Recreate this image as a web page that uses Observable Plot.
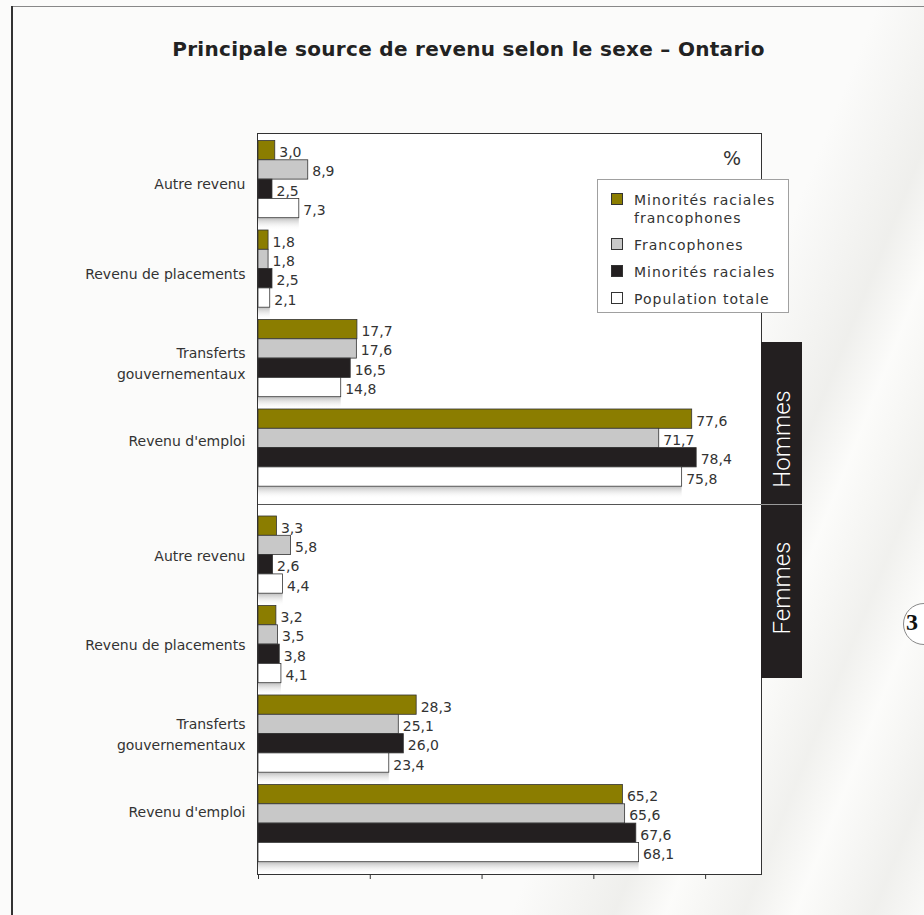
<!DOCTYPE html>
<html>
<head>
<meta charset="utf-8">
<script src="https://cdn.jsdelivr.net/npm/d3@7"></script>
<script src="https://cdn.jsdelivr.net/npm/@observablehq/plot@0.6"></script>
<style>
html, body { margin: 0; padding: 0; }
body { width: 924px; height: 915px; overflow: hidden; position: relative; background: #fbfbfa; font-family: "DejaVu Sans", sans-serif; color: #333; }
#bg { position: absolute; inset: 0; background:
  linear-gradient(112deg, rgba(255,255,255,0) 0%, rgba(255,255,255,0) 68%, rgba(236,236,233,0.8) 76%, rgba(252,252,250,0.6) 80%, rgba(238,238,235,0.8) 86%, rgba(252,252,250,0.5) 90%, rgba(235,235,232,0.7) 96%, rgba(248,248,246,0.6) 100%); }
#frameTop { position: absolute; left: 11px; top: 6px; width: 913px; height: 1px; background: #888; }
#frameLeft { position: absolute; left: 11px; top: 6px; width: 1.5px; height: 909px; background: #333; }
#title { position: absolute; left: 12px; width: 913px; top: 37px; text-align: center; font-family: "DejaVu Sans", sans-serif; font-weight: bold; font-size: 20px; letter-spacing: 0.3px; line-height: 24px; color: #222; }
#panel { position: absolute; left: 257px; top: 133px; width: 505px; height: 742px; box-sizing: border-box; background: #fff; border: 1px solid #333; }
.plot { position: absolute; left: 0; }
.plot svg { overflow: visible; }
g[aria-label="text"].values { letter-spacing: 1px; }
#sep { position: absolute; left: 258px; top: 504px; width: 544px; height: 1px; background: #555; }
#tab { position: absolute; left: 761px; top: 342px; width: 41px; height: 336px; background: #231f20; }
#tabSep { position: absolute; left: 761px; top: 504px; width: 41px; height: 1px; background: #9a9a9a; }
.tabLabel { position: absolute; left: 782px; transform: translate(-50%, -50%) rotate(-90deg); color: #fff; font-family: Roboto, sans-serif; font-weight: 300; font-size: 24px; white-space: nowrap; }
#legend { position: absolute; left: 597px; top: 179px; width: 192px; height: 134px; box-sizing: border-box; background: #fff; border: 1.5px solid #a0a0a0; padding: 11px 0 0 13px; }
.item { display: flex; align-items: flex-start; font-size: 14px; line-height: 18px; letter-spacing: 1px; margin-bottom: 9px; color: #333; }
.sw { width: 12px; height: 12px; box-sizing: border-box; border: 1.5px solid #333; margin: 2px 11px 0 0; flex: none; }
.lbl { max-width: 152px; }
#pct { position: absolute; left: 723px; top: 147px; font-size: 19px; color: #333; }
#pageNum { position: absolute; left: 903px; top: 603px; width: 42px; height: 42px; box-sizing: border-box; border-radius: 50%; border: 1px solid #888; background: #fff; }
#pageNumTxt { position: absolute; left: 906px; top: 609px; font-family: "Liberation Serif", serif; font-weight: bold; font-size: 24px; color: #111; }
</style>
</head>
<body>
<svg width="0" height="0" style="position:absolute">
  <defs>
    <linearGradient id="shadowGrad" x1="0" y1="0" x2="0" y2="1">
      <stop offset="0" stop-color="#7a7a7a" stop-opacity="0.5"/>
      <stop offset="1" stop-color="#ffffff" stop-opacity="0"/>
    </linearGradient>
  </defs>
</svg>
<div id="bg"></div>
<div id="frameTop"></div>
<div id="frameLeft"></div>
<div id="title">Principale source de revenu selon le sexe – Ontario</div>
<div id="panel"></div>
<div id="top" class="plot"></div>
<div id="bottom" class="plot"></div>
<div id="sep"></div>
<div id="pct">%</div>
<div id="legend"></div>
<div id="tab"></div>
<div id="tabSep"></div>
<div class="tabLabel" style="top:439px">Hommes</div>
<div class="tabLabel" style="top:588px">Femmes</div>
<div id="pageNum"></div>
<div id="pageNumTxt">3</div>
<script>
// ---- Data ----
const categories = ["Autre revenu", "Revenu de placements", "Transferts gouvernementaux", "Revenu d'emploi"];
const series = ["Minorités raciales francophones", "Francophones", "Minorités raciales", "Population totale"];
const hommes = [
  [3.0, 8.9, 2.5, 7.3],
  [1.8, 1.8, 2.5, 2.1],
  [17.7, 17.6, 16.5, 14.8],
  [77.6, 71.7, 78.4, 75.8]
];
const femmes = [
  [3.3, 5.8, 2.6, 4.4],
  [3.2, 3.5, 3.8, 4.1],
  [28.3, 25.1, 26.0, 23.4],
  [65.2, 65.6, 67.6, 68.1]
];
const xDomain = [0, 90];
const xTicks = [0, 20, 40, 60, 80];
const colors = ["#8b7d00", "#c8c8c8", "#231f20", "#ffffff"];
const categoryText = {"Transferts gouvernementaux": "Transferts\ngouvernementaux"};

// ---- Helpers ----
const fmt = v => v.toFixed(1).replace(".", ",");
const barStep = 19.3;

function section({values, height, marginTop, marginBottom, labelDy, emploiDy, withAxis}) {
  const rows = categories.flatMap((c, i) => series.map((s, j) => ({category: c, series: s, value: values[i][j]})));
  const fyStep = (height - marginTop - marginBottom) / categories.length;
  const po = (fyStep / barStep - series.length) / 2;
  const last = series[series.length - 1];
  const marks = [
    Plot.barX(rows.filter(d => d.series === last), {
      x: "value", y: "series", fy: "category",
      fill: "url(#shadowGrad)", dy: barStep, insetBottom: barStep - 12.5
    }),
    Plot.barX(rows, {x: "value", y: "series", fy: "category", fill: "series", stroke: "#333", strokeWidth: 0.8}),
    Plot.text(rows, {
      x: "value", y: "series", fy: "category", text: d => fmt(d.value),
      dx: 4, dy: 2, textAnchor: "start", fill: "#333", fontSize: 14, className: "values"
    }),
    Plot.text(categories.filter(c => c !== "Revenu d'emploi"), {
      fy: d => d, text: d => categoryText[d] || d, frameAnchor: "left",
      dx: -13, dy: labelDy, textAnchor: "end", lineHeight: 1.5, fontSize: 14, fill: "#333"
    }),
    Plot.text(categories.filter(c => c === "Revenu d'emploi"), {
      fy: d => d, text: d => d, frameAnchor: "left",
      dx: -13, dy: emploiDy, textAnchor: "end", fontSize: 14, fill: "#333"
    })
  ];
  if (withAxis) marks.push(Plot.axisX({ticks: xTicks, tickSize: 5, tickFormat: () => "", label: null, stroke: "#333"}));
  return Plot.plot({
    width: 924, height, marginLeft: 258, marginRight: 163, marginTop, marginBottom,
    x: {domain: xDomain, round: false, ...(withAxis ? {} : {axis: null})},
    y: {domain: series, axis: null, paddingInner: 0, paddingOuter: po, align: 0, round: false},
    fy: {domain: categories, axis: null, padding: 0, round: false},
    color: {domain: series, range: colors},
    style: {fontFamily: "DejaVu Sans, sans-serif", fontSize: "14px", color: "#333", background: "none", overflow: "visible"},
    marks
  });
}

const topEl = document.getElementById("top");
topEl.style.top = "133px";
topEl.append(section({values: hommes, height: 372, marginTop: 7.5, marginBottom: 6.5, labelDy: -3, emploiDy: -13, withAxis: false}));

const botEl = document.getElementById("bottom");
botEl.style.top = "505px";
botEl.append(section({values: femmes, height: 389, marginTop: 11, marginBottom: 20, labelDy: -7, emploiDy: -17, withAxis: true}));

// ---- Legend ----
const legend = document.getElementById("legend");
series.forEach((s, i) => {
  const item = document.createElement("div");
  item.className = "item";
  const sw = document.createElement("div");
  sw.className = "sw";
  sw.style.background = colors[i];
  const lbl = document.createElement("div");
  lbl.className = "lbl";
  lbl.textContent = s;
  item.append(sw, lbl);
  legend.append(item);
});
</script>
</body>
</html>
